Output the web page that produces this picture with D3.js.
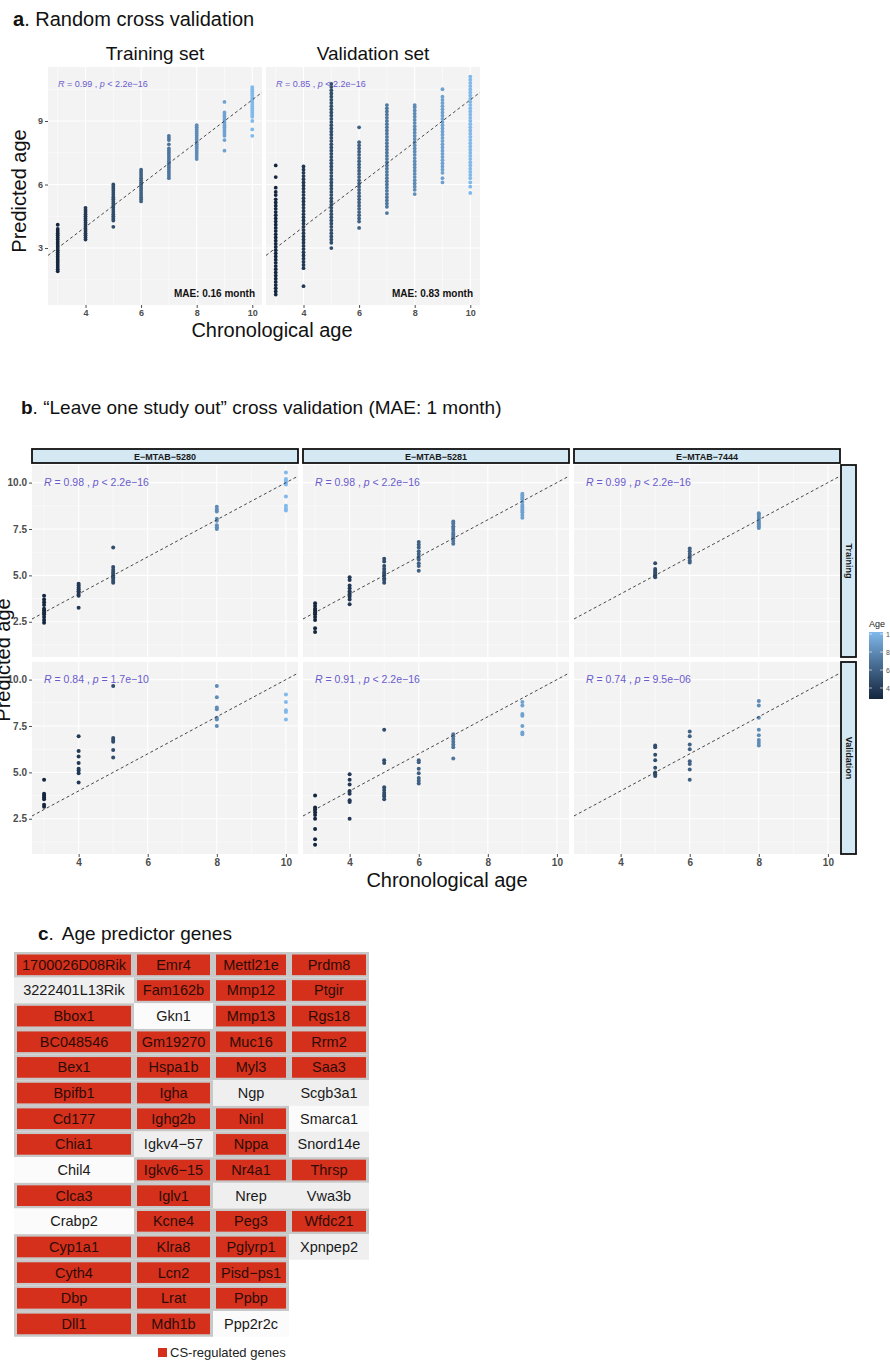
<!DOCTYPE html>
<html>
<head>
<meta charset="utf-8">
<script src="https://cdn.jsdelivr.net/npm/d3@7"></script>
<style>
body { margin: 0; background: #fff; }
svg { display: block; font-family: "Liberation Sans", Arial, sans-serif; }
</style>
</head>
<body>
<svg id="fig" width="890" height="1361"></svg>
<script>
// ---- panel a : random cross validation ----
var ages = [3, 4, 5, 6, 7, 8, 9, 10];

var trainA = [
	[1.9,2.0,2.1,2.2,2.3,2.4,2.5,2.6,2.7,2.8,2.9,3.0,3.1,3.2,3.3,3.4,3.5,3.6,3.7,3.8,3.9,4.1],
	[3.4,3.5,3.6,3.7,3.8,3.9,4.0,4.1,4.2,4.3,4.4,4.5,4.6,4.7,4.8,4.9],
	[4.0,4.3,4.4,4.5,4.6,4.7,4.8,4.9,5.0,5.1,5.2,5.3,5.4,5.5,5.6,5.7,5.8,5.9,6.0],
	[5.2,5.3,5.4,5.5,5.6,5.7,5.8,5.9,6.0,6.1,6.2,6.3,6.4,6.5,6.6,6.7],
	[6.3,6.4,6.5,6.6,6.7,6.8,6.9,7.0,7.1,7.2,7.3,7.4,7.5,7.6,7.7,7.9,8.1,8.2,8.3],
	[7.2,7.3,7.4,7.5,7.6,7.7,7.8,7.9,8.0,8.1,8.2,8.3,8.4,8.5,8.6,8.7,8.8],
	[7.6,8.1,8.3,8.4,8.5,8.6,8.7,8.8,8.9,9.0,9.1,9.2,9.3,9.4,9.9],
	[8.3,8.6,9.0,9.2,9.3,9.4,9.5,9.6,9.7,9.8,9.9,10.0,10.1,10.2,10.3,10.4,10.5,10.6]
];

var validA = [
	[0.8,0.95,1.1,1.25,1.4,1.55,1.7,1.85,2.0,2.15,2.3,2.45,2.6,2.75,2.9,3.05,3.2,3.35,3.5,3.65,3.8,3.95,4.1,4.25,4.4,4.55,4.7,4.85,5.0,5.15,5.3,5.5,5.65,5.85,6.35,6.9],
	[1.2,2.05,2.2,2.35,2.5,2.65,2.8,2.95,3.1,3.25,3.4,3.55,3.7,3.85,4.0,4.15,4.3,4.45,4.6,4.75,4.9,5.05,5.2,5.35,5.5,5.65,5.8,5.95,6.1,6.25,6.4,6.55,6.7,6.85],
	[3.0,3.25,3.4,3.55,3.7,3.85,4.0,4.15,4.3,4.45,4.6,4.75,4.9,5.05,5.2,5.35,5.5,5.65,5.8,5.95,6.1,6.25,6.4,6.55,6.7,6.85,7.0,7.15,7.3,7.45,7.6,7.75,7.9,8.05,8.2,8.35,8.5,8.65,8.8,8.95,9.1,9.25,9.4,9.55,9.7,9.85,10.0,10.15,10.3,10.45,10.6,10.75],
	[3.95,4.25,4.4,4.55,4.7,4.85,5.0,5.15,5.3,5.45,5.6,5.75,5.9,6.05,6.2,6.35,6.5,6.65,6.8,6.95,7.1,7.25,7.4,7.55,7.7,7.85,8.0,8.7],
	[4.65,4.95,5.1,5.25,5.4,5.55,5.7,5.85,6.0,6.15,6.3,6.45,6.6,6.75,6.9,7.05,7.2,7.35,7.5,7.65,7.8,7.95,8.1,8.25,8.4,8.55,8.7,8.85,9.0,9.15,9.3,9.45,9.6,9.75],
	[5.55,5.75,5.9,6.05,6.2,6.35,6.5,6.65,6.8,6.95,7.1,7.25,7.4,7.55,7.7,7.85,8.0,8.15,8.3,8.45,8.6,8.75,8.9,9.05,9.2,9.35,9.5,9.65,9.75],
	[6.1,6.3,6.55,6.7,6.85,7.0,7.15,7.3,7.45,7.6,7.75,7.9,8.05,8.2,8.35,8.5,8.65,8.8,8.95,9.1,9.25,9.4,9.55,9.7,9.85,10.0,10.15,10.5],
	[5.6,5.9,6.1,6.3,6.45,6.6,6.75,6.9,7.05,7.2,7.35,7.5,7.65,7.8,7.95,8.1,8.25,8.4,8.55,8.7,8.85,9.0,9.15,9.3,9.45,9.6,9.75,9.9,10.05,10.2,10.35,10.5,10.65,10.8,10.95,11.1]
];

var setTitlesA = ["Training set", "Validation set"];
var rA = ["0.99", "0.85"];
var pA = ["< 2.2e\u221216", "< 2.2e\u221216"];
var maeA = ["MAE: 0.16 month", "MAE: 0.83 month"];

// ---- panel b : leave one study out ----
var studies = ["E\u2212MTAB\u22125280", "E\u2212MTAB\u22125281", "E\u2212MTAB\u22127444"];
var setsB = ["Training", "Validation"];
var studyAges = [[3, 4, 5, 8, 10], [3, 4, 5, 6, 7, 9], [5, 6, 8]];

var trainB = [
	[[2.45,2.6,2.75,2.9,3.0,3.1,3.2,3.4,3.55,3.7,3.9],
	 [3.25,3.9,4.0,4.1,4.15,4.25,4.35,4.45,4.55],
	 [4.6,4.7,4.8,4.9,5.0,5.1,5.2,5.3,5.45,6.5],
	 [7.5,7.6,7.7,7.95,8.05,8.45,8.55,8.7],
	 [8.5,8.6,8.75,9.25,9.9,10.0,10.1,10.2,10.55]],
	[[1.95,2.15,2.6,2.75,2.9,3.0,3.1,3.2,3.35,3.5],
	 [3.45,3.7,3.85,3.95,4.05,4.15,4.3,4.45,4.75,4.9],
	 [4.6,4.75,4.85,5.0,5.1,5.2,5.35,5.5,5.75,5.9],
	 [5.25,5.5,5.65,5.85,6.0,6.15,6.3,6.5,6.65,6.8],
	 [6.7,6.85,7.0,7.1,7.2,7.3,7.45,7.55,7.65,7.8,7.9],
	 [8.1,8.25,8.4,8.5,8.6,8.7,8.8,8.95,9.1,9.2,9.3,9.4]],
	[[4.9,5.0,5.05,5.15,5.25,5.35,5.65],
	 [5.7,5.8,5.95,6.05,6.15,6.3,6.45],
	 [7.55,7.65,7.75,7.85,7.95,8.05,8.15,8.25,8.35]]
];

var validB = [
	[[3.15,3.25,3.55,3.65,3.75,3.85,4.6],
	 [4.45,4.95,5.1,5.2,5.5,5.85,6.15,6.95],
	 [5.8,6.2,6.65,6.75,6.85,9.65],
	 [7.5,7.85,7.95,8.4,8.5,9.05,9.65],
	 [7.85,8.25,8.35,8.8,9.2]],
	[[1.1,1.4,1.95,2.5,2.7,2.85,3.0,3.1,3.75],
	 [2.5,3.4,3.5,3.85,4.0,4.35,4.6,4.9],
	 [3.55,3.7,3.8,3.9,4.05,4.2,5.5,5.65,7.3],
	 [4.4,4.55,4.7,4.95,5.2,5.55,5.65],
	 [5.75,6.35,6.5,6.65,6.8,6.95,7.05],
	 [7.05,7.15,7.5,8.05,8.15,8.6,8.8]],
	[[4.8,4.9,5.0,5.25,5.65,5.95,6.35,6.45],
	 [4.6,5.15,5.45,5.6,6.25,6.5,6.95,7.2],
	 [6.45,6.6,6.75,7.0,7.3,7.95,8.6,8.85]]
];

var rB = [["0.98", "0.98", "0.99"], ["0.84", "0.91", "0.74"]];
var pB = [["< 2.2e\u221216", "< 2.2e\u221216", "< 2.2e\u221216"], ["= 1.7e\u221210", "< 2.2e\u221216", "= 9.5e\u221206"]];
var legendTicks = [4, 6, 8, 10];

// ---- panel c : age predictor genes ----
var geneCols = [
	["1700026D08Rik","3222401L13Rik","Bbox1","BC048546","Bex1","Bpifb1","Cd177","Chia1","Chil4","Clca3","Crabp2","Cyp1a1","Cyth4","Dbp","Dll1"],
	["Emr4","Fam162b","Gkn1","Gm19270","Hspa1b","Igha","Ighg2b","Igkv4\u221257","Igkv6\u221215","Iglv1","Kcne4","Klra8","Lcn2","Lrat","Mdh1b"],
	["Mettl21e","Mmp12","Mmp13","Muc16","Myl3","Ngp","Ninl","Nppa","Nr4a1","Nrep","Peg3","Pglyrp1","Pisd\u2212ps1","Ppbp","Ppp2r2c"],
	["Prdm8","Ptgir","Rgs18","Rrm2","Saa3","Scgb3a1","Smarca1","Snord14e","Thrsp","Vwa3b","Wfdc21","Xpnpep2"]
];
var notRegulated = ["3222401L13Rik","Gkn1","Chil4","Crabp2","Igkv4\u221257","Ngp","Nrep","Ppp2r2c","Scgb3a1","Smarca1","Snord14e","Vwa3b","Xpnpep2"];

var svg = d3.select("#fig");
var FONT = '"Liberation Sans", Arial, sans-serif';
var purple = "#6a5acd";

svg.append("rect").attr("width", 890).attr("height", 1361).attr("fill", "#fff");

var color = d3.scaleLinear()
	.domain([3, 10])
	.range(["#15273f", "#80b9ec"])
	.interpolate(d3.interpolateLab);

var clipCount = 0;

// draw one ggplot-like panel, returns its scales
function drawPanel(g, o) {
	var x = d3.scaleLinear().domain(o.xd).range([o.x, o.x + o.w]);
	var y = d3.scaleLinear().domain(o.yd).range([o.y + o.h, o.y]);

	g.append("rect")
		.attr("x", o.x).attr("y", o.y).attr("width", o.w).attr("height", o.h)
		.attr("fill", "#f3f3f3");

	var grid = g.append("g").attr("stroke", "#fff");
	grid.selectAll(".xmin").data(o.xMin).enter().append("line")
		.attr("x1", function(d) { return x(d); }).attr("x2", function(d) { return x(d); })
		.attr("y1", o.y).attr("y2", o.y + o.h).attr("stroke-width", 0.5);
	grid.selectAll(".ymin").data(o.yMin).enter().append("line")
		.attr("y1", function(d) { return y(d); }).attr("y2", function(d) { return y(d); })
		.attr("x1", o.x).attr("x2", o.x + o.w).attr("stroke-width", 0.5);
	grid.selectAll(".xmaj").data(o.xMaj).enter().append("line")
		.attr("x1", function(d) { return x(d); }).attr("x2", function(d) { return x(d); })
		.attr("y1", o.y).attr("y2", o.y + o.h).attr("stroke-width", 1.1);
	grid.selectAll(".ymaj").data(o.yMaj).enter().append("line")
		.attr("y1", function(d) { return y(d); }).attr("y2", function(d) { return y(d); })
		.attr("x1", o.x).attr("x2", o.x + o.w).attr("stroke-width", 1.1);

	var id = "clip" + (clipCount++);
	svg.append("clipPath").attr("id", id).append("rect")
		.attr("x", o.x).attr("y", o.y).attr("width", o.w).attr("height", o.h);

	var inner = g.append("g").attr("clip-path", "url(#" + id + ")");

	inner.selectAll("circle").data(o.pts).enter().append("circle")
		.attr("cx", function(d) { return x(d.age); })
		.attr("cy", function(d) { return y(d.pred); })
		.attr("r", o.r)
		.attr("fill", function(d) { return color(d.age); });

	inner.append("line")
		.attr("x1", x(o.xd[0])).attr("y1", y(o.xd[0]))
		.attr("x2", x(o.xd[1])).attr("y2", y(o.xd[1]))
		.attr("stroke", "#333").attr("stroke-width", 0.9)
		.attr("stroke-dasharray", "3,2.6");

	return { x: x, y: y };
}

function toPoints(agesList, values) {
	var pts = [];
	agesList.forEach(function(a, i) {
		values[i].forEach(function(v) { pts.push({ age: a, pred: v }); });
	});
	return pts;
}

function styleAxis(ax, size) {
	ax.attr("font-family", FONT);
	ax.select(".domain").remove();
	ax.selectAll(".tick line").attr("stroke", "#4d4d4d");
	ax.selectAll(".tick text").attr("fill", "#4d4d4d").attr("font-weight", "bold").attr("font-size", size);
}

function statLabel(g, x, y, r, p, size) {
	var t = g.append("text").attr("x", x).attr("y", y)
		.attr("font-size", size).attr("fill", purple).attr("font-family", FONT);
	t.append("tspan").attr("font-style", "italic").text("R");
	t.append("tspan").text(" = " + r + " , ");
	t.append("tspan").attr("font-style", "italic").text("p");
	t.append("tspan").text(" " + p);
}

// ================= panel a =================
var ga = svg.append("g");
var pa = ga.append("text").attr("x", 13).attr("y", 26).attr("font-size", 20).attr("fill", "#111");
pa.append("tspan").attr("font-weight", "bold").text("a");
pa.append("tspan").text(". Random cross validation");

var aX = [48, 266];
[trainA, validA].forEach(function(vals, k) {
	var s = drawPanel(ga, {
		x: aX[k], y: 67, w: 214, h: 238,
		xd: [2.65, 10.35], yd: [0.31, 11.55],
		xMaj: [4, 6, 8, 10], xMin: [3, 5, 7, 9],
		yMaj: [3, 6, 9], yMin: [1.5, 4.5, 7.5, 10.5],
		pts: toPoints(ages, vals), r: 1.9
	});

	ga.append("text").attr("x", aX[k] + 107).attr("y", 60)
		.attr("text-anchor", "middle").attr("font-size", 19).attr("fill", "#111")
		.text(setTitlesA[k]);

	statLabel(ga, aX[k] + 10, 87, rA[k], pA[k], 9);

	ga.append("text").attr("x", aX[k] + 207).attr("y", 297)
		.attr("text-anchor", "end").attr("font-size", 10).attr("font-weight", "bold")
		.attr("fill", "#111").text(maeA[k]);

	var xa = ga.append("g").attr("transform", "translate(0,305)")
		.call(d3.axisBottom(s.x).tickValues([4, 6, 8, 10]).tickSize(3).tickPadding(2));
	styleAxis(xa, 9);

	if (k == 0) {
		var ya = ga.append("g").attr("transform", "translate(" + aX[k] + ",0)")
			.call(d3.axisLeft(s.y).tickValues([3, 6, 9]).tickSize(3).tickPadding(2));
		styleAxis(ya, 9);
	}
});

ga.append("text").attr("transform", "translate(26,191) rotate(-90)")
	.attr("text-anchor", "middle").attr("font-size", 20).attr("fill", "#111")
	.text("Predicted age");
ga.append("text").attr("x", 272).attr("y", 337)
	.attr("text-anchor", "middle").attr("font-size", 20).attr("fill", "#111")
	.text("Chronological age");

// ================= panel b =================
var gb = svg.append("g");
var pb = gb.append("text").attr("x", 21).attr("y", 414).attr("font-size", 19).attr("fill", "#111");
pb.append("tspan").attr("font-weight", "bold").text("b");
pb.append("tspan").text(". \u201cLeave one study out\u201d cross validation (MAE: 1 month)");

var bX = [32, 303, 574];
var bW = 266;
var bY = [465, 662];
var bH = 192;

studies.forEach(function(st, c) {
	// strip on top
	gb.append("rect").attr("x", bX[c]).attr("y", 449).attr("width", bW).attr("height", 14)
		.attr("fill", "#d4e9f4").attr("stroke", "#111").attr("stroke-width", 1.8);
	gb.append("text").attr("x", bX[c] + bW / 2).attr("y", 459.5)
		.attr("text-anchor", "middle").attr("font-size", 9).attr("font-weight", "bold")
		.attr("fill", "#1a1a1a").text(st);

	[trainB, validB].forEach(function(vals, r) {
		var s = drawPanel(gb, {
			x: bX[c], y: bY[r], w: bW, h: bH,
			xd: [2.65, 10.35], yd: [0.6, 10.95],
			xMaj: [4, 6, 8, 10], xMin: [3, 5, 7, 9],
			yMaj: [2.5, 5, 7.5, 10], yMin: [1.25, 3.75, 6.25, 8.75],
			pts: toPoints(studyAges[c], vals[c]), r: 2
		});

		statLabel(gb, bX[c] + 12, bY[r] + 21, rB[r][c], pB[r][c], 10.5);

		if (c == 0) {
			var ya = gb.append("g").attr("transform", "translate(" + bX[c] + ",0)")
				.call(d3.axisLeft(s.y).tickValues([2.5, 5, 7.5, 10]).tickFormat(d3.format(".1f")).tickSize(3).tickPadding(2));
			styleAxis(ya, 10);
		}
		if (r == 1) {
			var xa = gb.append("g").attr("transform", "translate(0," + (bY[r] + bH) + ")")
				.call(d3.axisBottom(s.x).tickValues([4, 6, 8, 10]).tickSize(3).tickPadding(2));
			styleAxis(xa, 10);
		}
	});
});

// strips on the right
setsB.forEach(function(st, r) {
	gb.append("rect").attr("x", 841).attr("y", bY[r]).attr("width", 15).attr("height", bH)
		.attr("fill", "#d4e9f4").attr("stroke", "#111").attr("stroke-width", 1.8);
	gb.append("text").attr("transform", "translate(845.5," + (bY[r] + bH / 2) + ") rotate(90)")
		.attr("text-anchor", "middle").attr("font-size", 9).attr("font-weight", "bold")
		.attr("fill", "#1a1a1a").text(st);
});

gb.append("text").attr("transform", "translate(10,660) rotate(-90)")
	.attr("text-anchor", "middle").attr("font-size", 20).attr("fill", "#111")
	.text("Predicted age");
gb.append("text").attr("x", 447).attr("y", 887)
	.attr("text-anchor", "middle").attr("font-size", 20).attr("fill", "#111")
	.text("Chronological age");

// colour bar legend
var lg = d3.scaleLinear().domain([3, 10]).range([697, 634]);
var grad = svg.append("defs").append("linearGradient").attr("id", "ageGrad")
	.attr("x1", 0).attr("y1", 1).attr("x2", 0).attr("y2", 0);
d3.range(3, 10.5, 0.5).forEach(function(v) {
	grad.append("stop").attr("offset", (v - 3) / 7).attr("stop-color", color(v));
});
gb.append("text").attr("x", 869).attr("y", 627).attr("font-size", 9).attr("fill", "#222").text("Age");
gb.append("rect").attr("x", 869).attr("y", 632).attr("width", 14).attr("height", 67).attr("fill", "url(#ageGrad)");
gb.selectAll(".lt").data(legendTicks).enter().append("line")
	.attr("x1", 869).attr("x2", 872).attr("y1", function(d) { return lg(d); }).attr("y2", function(d) { return lg(d); })
	.attr("stroke", "#fff").attr("stroke-width", 0.6);
gb.selectAll(".rt").data(legendTicks).enter().append("line")
	.attr("x1", 880).attr("x2", 883).attr("y1", function(d) { return lg(d); }).attr("y2", function(d) { return lg(d); })
	.attr("stroke", "#fff").attr("stroke-width", 0.6);
gb.selectAll(".ll").data(legendTicks).enter().append("text")
	.attr("x", 886).attr("y", function(d) { return lg(d) + 2.5; })
	.attr("font-size", 7).attr("fill", "#555").text(function(d) { return d; });

// ================= panel c =================
var gc = svg.append("g");
var pc = gc.append("text").attr("x", 38).attr("y", 940).attr("font-size", 19).attr("fill", "#111");
pc.append("tspan").attr("font-weight", "bold").text("c");
pc.append("tspan").text(".");
pc.append("tspan").attr("dx", 8).text("Age predictor genes");

var colEdges = [14, 134, 213, 289, 369];
var rowTop = 952, rowH = 25.65;

geneCols.forEach(function(col, c) {
	col.forEach(function(gene, r) {
		var x0 = colEdges[c], w = colEdges[c + 1] - colEdges[c], y0 = rowTop + r * rowH;
		var cs = notRegulated.indexOf(gene) < 0;
		if (cs) {
			gc.append("rect").attr("x", x0).attr("y", y0).attr("width", w).attr("height", rowH).attr("fill", "#c8c8c8");
			gc.append("rect").attr("x", x0 + 3).attr("y", y0 + 2.5).attr("width", w - 6).attr("height", rowH - 5).attr("fill", "#d5301c");
		} else {
			gc.append("rect").attr("x", x0).attr("y", y0).attr("width", w).attr("height", rowH)
				.attr("fill", r % 2 == 1 ? "#efefef" : "#fbfbfb");
		}
		gc.append("text").attr("x", x0 + w / 2).attr("y", y0 + rowH / 2 + 5)
			.attr("text-anchor", "middle").attr("font-size", 14.5)
			.attr("fill", cs ? "#2e0c06" : "#1a1a1a").text(gene);
	});
});

gc.append("rect").attr("x", 158).attr("y", 1348).attr("width", 9).attr("height", 9).attr("fill", "#d5301c");
gc.append("text").attr("x", 170).attr("y", 1357).attr("font-size", 13).attr("fill", "#222").text("CS-regulated genes");
</script>
</body>
</html>
